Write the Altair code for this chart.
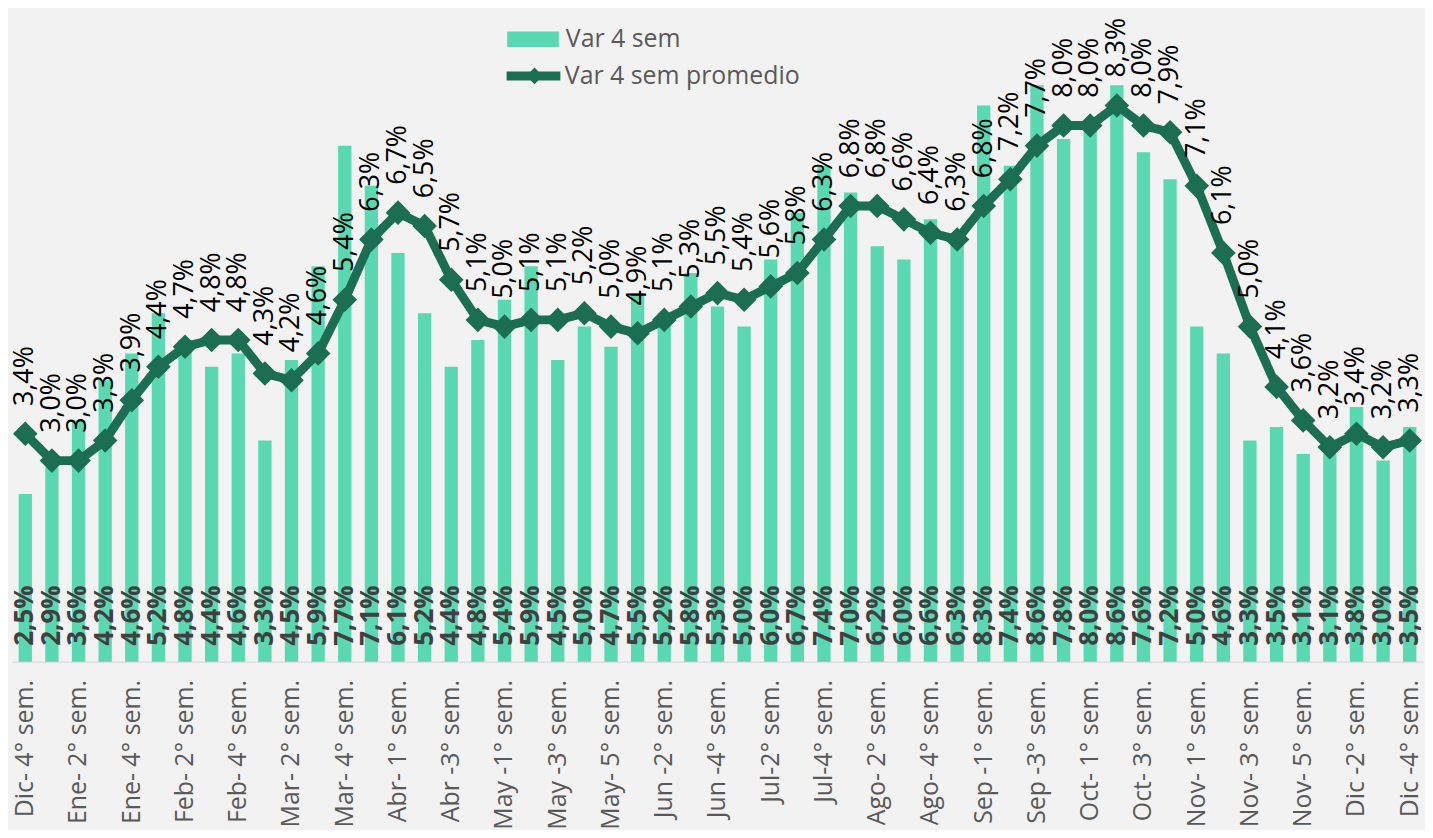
import altair as alt
import pandas as pd

categories = [
    "Dic- 4° sem.", "Ene- 1° sem.", "Ene- 2° sem.", "Ene- 3° sem.", "Ene- 4° sem.",
    "Feb- 1° sem.", "Feb- 2° sem.", "Feb- 3° sem.", "Feb- 4° sem.",
    "Mar- 1° sem.", "Mar- 2° sem.", "Mar- 3° sem.", "Mar- 4° sem.", "Mar- 5° sem.",
    "Abr- 1° sem.", "Abr- 2° sem.", "Abr -3° sem.", "Abr -4° sem.",
    "May -1° sem.", "May -2° sem.", "May -3° sem.", "May -4° sem.", "May- 5° sem.",
    "Jun -1° sem.", "Jun -2° sem.", "Jun -3° sem.", "Jun -4° sem.",
    "Jul-1° sem.", "Jul-2° sem.", "Jul-3° sem.", "Jul-4° sem.",
    "Ago- 1° sem.", "Ago- 2° sem.", "Ago- 3° sem.", "Ago- 4° sem.", "Ago- 5° sem.",
    "Sep -1° sem.", "Sep -2° sem.", "Sep -3° sem.", "Sep -4° sem.",
    "Oct- 1° sem.", "Oct- 2° sem.", "Oct- 3° sem.", "Oct- 4° sem.",
    "Nov- 1° sem.", "Nov- 2° sem.", "Nov- 3° sem.", "Nov- 4° sem.", "Nov- 5° sem.",
    "Dic -1° sem.", "Dic -2° sem.", "Dic -3° sem.", "Dic -4° sem.",
]

var4_sem = [
    2.5, 2.9, 3.6, 4.2, 4.6, 5.2, 4.8, 4.4, 4.6, 3.3, 4.5, 5.9, 7.7, 7.1,
    6.1, 5.2, 4.4, 4.8, 5.4, 5.9, 4.5, 5.0, 4.7, 5.5, 5.2, 5.8, 5.3, 5.0,
    6.0, 6.7, 7.4, 7.0, 6.2, 6.0, 6.6, 6.3, 8.3, 7.4, 8.6, 7.8, 8.0, 8.6,
    7.6, 7.2, 5.0, 4.6, 3.3, 3.5, 3.1, 3.1, 3.8, 3.0, 3.5,
]

var4_promedio = [
    3.4, 3.0, 3.0, 3.3, 3.9, 4.4, 4.7, 4.8, 4.8, 4.3, 4.2, 4.6, 5.4, 6.3,
    6.7, 6.5, 5.7, 5.1, 5.0, 5.1, 5.1, 5.2, 5.0, 4.9, 5.1, 5.3, 5.5, 5.4,
    5.6, 5.8, 6.3, 6.8, 6.8, 6.6, 6.4, 6.3, 6.8, 7.2, 7.7, 8.0, 8.0, 8.3,
    8.0, 7.9, 7.1, 6.1, 5.0, 4.1, 3.6, 3.2, 3.4, 3.2, 3.3,
]

tick_labels = categories[::2]
series_names = ["Var 4 sem", "Var 4 sem promedio"]

BAR = "#5ad8b1"
LINE = "#1b6e52"
FONT = "Open Sans"


def fmt(v):
    return f"{v:.1f}".replace(".", ",") + "%"


df = pd.DataFrame({"semana": categories, "var4": var4_sem, "prom": var4_promedio})
df["var4_lbl"] = df["var4"].map(fmt)
df["prom_lbl"] = df["prom"].map(fmt)
df["base"] = 0.0
df["serie_bar"] = series_names[0]
df["serie_line"] = series_names[1]

x = alt.X(
    "semana:N",
    sort=categories,
    title=None,
    scale=alt.Scale(paddingInner=0.5, paddingOuter=0.25),
    axis=alt.Axis(
        values=tick_labels,
        labelAngle=-90,
        labelPadding=18,
        ticks=False,
        labelFont=FONT,
        labelFontSize=25,
        labelColor="#595959",
        labelOverlap=False,
        labelLimit=300,
        domainColor="#d9d9d9",
        domainWidth=1.5,
        grid=False,
    ),
)
yscale = alt.Scale(domain=[0, 9.72], nice=False, zero=True)

base = alt.Chart(df)

bars = base.mark_bar().encode(
    x=x,
    y=alt.Y("var4:Q", scale=yscale, axis=None, title=None),
    fill=alt.Fill(
        "serie_bar:N",
        scale=alt.Scale(domain=[series_names[0]], range=[BAR]),
        legend=alt.Legend(
            title=None,
            orient="none",
            legendX=498,
            legendY=3,
            padding=0,
            symbolType="M-1,-0.3H1V0.3H-1Z",
            symbolSize=2704,
            symbolStrokeWidth=0,
            labelOffset=7,
            labelFont=FONT,
            labelFontSize=25,
            labelColor="#595959",
            labelLimit=400,
        ),
    ),
)

bar_labels = base.mark_text(
    angle=270, align="left", baseline="middle", dx=16,
    font=FONT, fontSize=26, fontWeight="bold", color="#404040",
).encode(x=x, y=alt.Y("base:Q", scale=yscale, axis=None), text="var4_lbl:N")

line = base.mark_line(strokeWidth=9, strokeJoin="round").encode(
    x=x,
    y=alt.Y("prom:Q", scale=yscale, axis=None, title=None),
    stroke=alt.Stroke(
        "serie_line:N",
        scale=alt.Scale(domain=[series_names[1]], range=[LINE]),
        legend=alt.Legend(
            title=None,
            orient="none",
            legendX=495,
            legendY=35.5,
            padding=0,
            symbolType="M-1.08,0H1M-0.08,0L0,-0.08L0.08,0L0,0.08Z",
            symbolSize=2704,
            symbolStrokeWidth=9,
            symbolFillColor=LINE,
            labelOffset=0,
            labelFont=FONT,
            labelFontSize=25,
            labelColor="#595959",
            labelLimit=400,
        ),
    ),
)

points = base.mark_point(
    shape="diamond", filled=True, size=480, color=LINE, opacity=1,
    stroke=LINE, strokeWidth=2,
).encode(x=x, y=alt.Y("prom:Q", scale=yscale, axis=None))

line_labels = base.mark_text(
    angle=270, align="left", baseline="middle", dx=28,
    font=FONT, fontSize=27, color="#000000",
).encode(x=x, y=alt.Y("prom:Q", scale=yscale, axis=None), text="prom_lbl:N")

chart = (
    alt.layer(bars, bar_labels, line, points, line_labels)
    .properties(
        width=1419,
        height=655,
        autosize=alt.AutoSizeParams(type="none"),
        padding={"left": 4, "top": 0, "right": 2, "bottom": 167},
        background="#f2f2f2",
    )
    .configure_view(stroke=None)
)

chart.save("out.html", embed_options={"renderer": "svg", "actions": False})
